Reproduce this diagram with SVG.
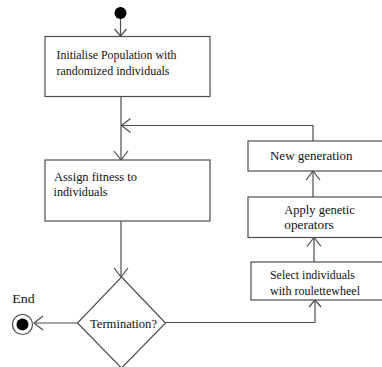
<svg xmlns="http://www.w3.org/2000/svg" width="382" height="367" viewBox="0 0 382 367">
<style>
.box{fill:#fff;stroke:#4d4d4d;stroke-width:1.2}
.ln{fill:none;stroke:#4d4d4d;stroke-width:1.2}
text{font-family:'Liberation Serif','DejaVu Serif',serif;font-size:12.5px;fill:#111}
</style>
<defs>
<marker id="a" markerUnits="userSpaceOnUse" markerWidth="20" markerHeight="20" refX="10" refY="10" orient="auto" overflow="visible">
<path d="M1,3 L10,10 L1,17" fill="none" stroke="#4d4d4d" stroke-width="1.2"/>
</marker>
<marker id="as" markerUnits="userSpaceOnUse" markerWidth="20" markerHeight="20" refX="10" refY="10" orient="auto" overflow="visible">
<path d="M3,4 L10,10 L3,16" fill="none" stroke="#4d4d4d" stroke-width="1.2"/>
</marker>
</defs>
<rect width="382" height="367" fill="#fff"/>
<g id="connectors">
<path class="ln" d="M120.5,14 V36" marker-end="url(#as)"/>
<path class="ln" d="M121,97 V160" marker-end="url(#a)"/>
<path class="ln" d="M313,141 V125.5 H121.5" marker-end="url(#a)"/>
<path class="ln" d="M121,221 V277" marker-end="url(#a)"/>
<path class="ln" d="M77.5,323 H34" marker-end="url(#a)"/>
<path class="ln" d="M165.5,322.5 H315 V300" marker-end="url(#as)"/>
<path class="ln" d="M314,262 V237.5" marker-end="url(#a)"/>
<path class="ln" d="M313,197 V171" marker-end="url(#a)"/>
</g>
<g id="start"><circle cx="120.5" cy="13" r="6" fill="#000"/></g>
<g id="init">
<rect class="box" x="45" y="36.5" width="165" height="60"/>
<text x="56.5" y="58.5" textLength="120" lengthAdjust="spacingAndGlyphs">Initialise Population with</text>
<text x="56.5" y="75" textLength="113" lengthAdjust="spacingAndGlyphs">randomized individuals</text>
</g>
<g id="fitness">
<rect class="box" x="45" y="160" width="165" height="61"/>
<text x="54" y="181" textLength="83" lengthAdjust="spacingAndGlyphs">Assign fitness to</text>
<text x="53.5" y="196" textLength="54" lengthAdjust="spacingAndGlyphs">individuals</text>
</g>
<g id="termination">
<path class="box" d="M121.5,277 L165.5,323 L121.5,368 L77.5,323 Z"/>
<text x="90" y="327.5" textLength="67" lengthAdjust="spacingAndGlyphs">Termination?</text>
</g>
<g id="end">
<text x="12.3" y="302.5" textLength="22.5" lengthAdjust="spacingAndGlyphs">End</text>
<circle cx="22.5" cy="324.5" r="10" fill="#fff" stroke="#4d4d4d" stroke-width="1.2"/>
<circle cx="22.5" cy="324.5" r="6" fill="#000"/>
</g>
<g id="newgen">
<rect class="box" x="248" y="141" width="150" height="30"/>
<text x="270" y="159.5" style="font-size:13px" textLength="82.5" lengthAdjust="spacingAndGlyphs">New generation</text>
</g>
<g id="apply">
<rect class="box" x="248" y="197" width="150" height="40.5"/>
<text x="284.3" y="213.5" textLength="70.5" lengthAdjust="spacingAndGlyphs">Apply genetic</text>
<text x="284.3" y="228.5" textLength="49.5" lengthAdjust="spacingAndGlyphs">operators</text>
</g>
<g id="select">
<rect class="box" x="251" y="262" width="150" height="38"/>
<text x="270" y="278.5" textLength="85" lengthAdjust="spacingAndGlyphs">Select individuals</text>
<text x="270" y="294.5" textLength="90" lengthAdjust="spacingAndGlyphs">with roulettewheel</text>
</g>
</svg>
